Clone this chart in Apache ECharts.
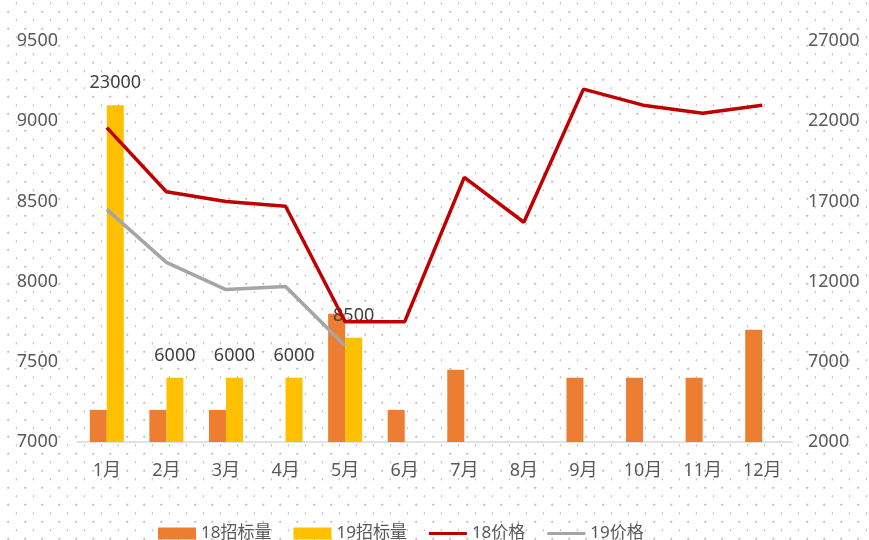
<!DOCTYPE html>
<html>
<head>
<meta charset="utf-8">
<script src="https://cdn.jsdelivr.net/npm/echarts@6/dist/echarts.min.js"></script>
<style>
	html, body {
		margin: 0;
		padding: 0;
	}
	body {
		width: 869px;
		height: 540px;
		background-color: #fff;
		background-image:
			radial-gradient(circle at 16.7px 3.3px, #c8c8c8 0, #c8c8c8 0.9px, transparent 1.4px),
			radial-gradient(circle at 8.3px 11.7px, #c8c8c8 0, #c8c8c8 0.9px, transparent 1.4px);
		background-size: 17px 17px;
	}
	#main {
		width: 869px;
		height: 540px;
	}
</style>
</head>
<body>
<div id="main"></div>
<script>
const months = ["1月", "2月", "3月", "4月", "5月", "6月", "7月", "8月", "9月", "10月", "11月", "12月"]
const bid18 = [4000, 4000, 4000, null, 10000, 4000, 6500, null, 6000, 6000, 6000, 9000]
const bid19 = [23000, 6000, 6000, 6000, 8500, null, null, null, null, null, null, null]
const price18 = [8960, 8560, 8500, 8470, 7750, 7750, 8650, 8370, 9200, 9100, 9050, 9100]
const price19 = [8450, 8120, 7950, 7970, 7600]

const font = "'Noto Sans', 'Noto Sans CJK SC', sans-serif"
const textColor = "#595959"
// 图例里的折线图标：细长条
const lineIcon = "path://M0,0 L38,0 L38,3 L0,3 Z"
// 刻度不加千分位
const plain = v => String(v)

const chart = echarts.init(document.getElementById("main"))

const option = {
	animation: false,
	color: ["#ED7D31", "#FFC000", "#C00000", "#A5A5A5"],
	textStyle: { fontFamily: font },
	legend: {
		left: 153,
		top: 520,
		itemWidth: 38,
		itemHeight: 12,
		itemGap: 22,
		textStyle: {
			color: textColor,
			fontSize: 17,
			fontFamily: font
		},
		data: [
			{ name: "18招标量", icon: "rect" },
			{ name: "19招标量", icon: "rect" },
			{ name: "18价格", icon: lineIcon },
			{ name: "19价格", icon: lineIcon }
		]
	},
	grid: {
		left: 77,
		right: 77,
		top: 41,
		height: 401
	},
	xAxis: {
		type: "category",
		data: months,
		axisTick: { show: false },
		axisLine: {
			lineStyle: { color: "#D9D9D9", width: 1.5 }
		},
		axisLabel: {
			color: textColor,
			fontSize: 18,
			margin: 20
		}
	},
	yAxis: [
		{
			type: "value",
			min: 7000,
			max: 9500,
			interval: 500,
			splitLine: { show: false },
			axisLine: { show: false },
			axisTick: { show: false },
			axisLabel: {
				color: textColor,
				fontSize: 18,
				margin: 19,
				formatter: plain
			}
		},
		{
			type: "value",
			min: 2000,
			max: 27000,
			interval: 5000,
			splitLine: { show: false },
			axisLine: { show: false },
			axisTick: { show: false },
			axisLabel: {
				color: textColor,
				fontSize: 18,
				margin: 16,
				formatter: plain
			}
		}
	],
	series: [
		{
			name: "18招标量",
			type: "bar",
			yAxisIndex: 1,
			barWidth: 17,
			barGap: "0%",
			data: bid18
		},
		{
			name: "19招标量",
			type: "bar",
			yAxisIndex: 1,
			barWidth: 17,
			data: bid19,
			label: {
				show: true,
				position: "top",
				distance: 13,
				color: "#404040",
				fontSize: 18
			}
		},
		{
			name: "18价格",
			type: "line",
			symbol: "none",
			data: price18,
			lineStyle: { width: 3.5, color: "#C00000" }
		},
		{
			name: "19价格",
			type: "line",
			symbol: "none",
			data: price19,
			lineStyle: { width: 3.5, color: "#A5A5A5" }
		}
	]
}

chart.setOption(option)
</script>
</body>
</html>
